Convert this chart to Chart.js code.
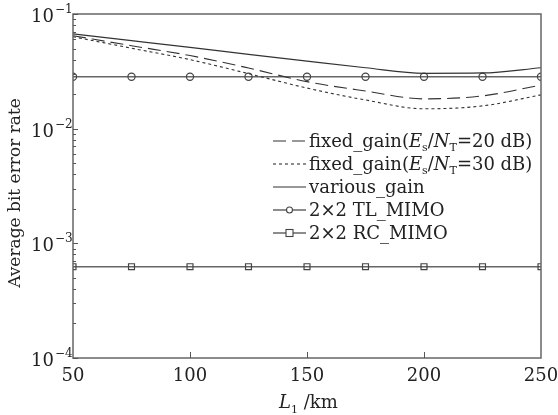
<!DOCTYPE html>
<html>
<head>
<meta charset="utf-8">
<script src="https://cdn.jsdelivr.net/npm/chart.js@4"></script>
<style>
html,body{margin:0;padding:0;background:#fff;}
#wrap{width:558px;height:415px;position:relative;}
</style>
</head>
<body>
<div id="wrap"><canvas id="c" width="558" height="415"></canvas></div>
<script>
// ---- data ----
const distances = [50, 75, 100, 125, 150, 175, 200, 225, 250];
const fixedGain20 = [0.0647, 0.0529, 0.0434, 0.0338, 0.0257, 0.0213, 0.0182, 0.0193, 0.0240];
const fixedGain30 = [0.0634, 0.0503, 0.0400, 0.0302, 0.0226, 0.0178, 0.0149, 0.0158, 0.0197];
const variousGain = [0.0670, 0.0586, 0.0512, 0.0445, 0.0388, 0.0340, 0.0304, 0.0306, 0.0340];
const tlMimo = [0.0284, 0.0284, 0.0284, 0.0284, 0.0284, 0.0284, 0.0284, 0.0284, 0.0284];
const rcMimo = [0.000625, 0.000625, 0.000625, 0.000625, 0.000625, 0.000625, 0.000625, 0.000625, 0.000625];
const xTicks = [50, 100, 150, 200, 250];
const yDecades = [-4, -3, -2, -1];
const xTitleMain = 'L';
const xTitleSub = '1';
const xTitleRest = ' /km';
const yTitle = 'Average bit error rate';

const FONT = '"DejaVu Serif", "Liberation Serif", serif';
const TXT = '#222';
const FRAME = '#666';

function pts(arr){ return distances.map((d,i)=>({x:d, y:arr[i]})); }

const datasets = [
  {label:'fixed_gain(Es/NT=20 dB)', data:pts(fixedGain20), borderColor:'#333', borderWidth:1.1, borderDash:[13,6], pointRadius:0, cubicInterpolationMode:'monotone',
   legendParts:[['fixed_gain(',''],['E','i'],['s','sub'],['/',''],['N','i'],['T','sub'],['=20 dB)','']]},
  {label:'fixed_gain(Es/NT=30 dB)', data:pts(fixedGain30), borderColor:'#333', borderWidth:1.1, borderDash:[3,3], pointRadius:0, cubicInterpolationMode:'monotone',
   legendParts:[['fixed_gain(',''],['E','i'],['s','sub'],['/',''],['N','i'],['T','sub'],['=30 dB)','']]},
  {label:'various_gain', data:pts(variousGain), borderColor:'#333', borderWidth:1.2, pointRadius:0, cubicInterpolationMode:'monotone',
   legendParts:[['various_gain','']]},
  {label:'2×2 TL_MIMO', data:pts(tlMimo), borderColor:'#666', borderWidth:1.6, pointStyle:'circle', pointRadius:3.6,
   pointBorderColor:'#444', pointBackgroundColor:'rgba(255,255,255,0)', pointBorderWidth:1.2,
   legendParts:[['2×2 TL_MIMO','']]},
  {label:'2×2 RC_MIMO', data:pts(rcMimo), borderColor:'#666', borderWidth:1.6, pointStyle:'rect', pointRadius:4.2,
   pointBorderColor:'#444', pointBackgroundColor:'rgba(255,255,255,0)', pointBorderWidth:1.2,
   legendParts:[['2×2 RC_MIMO','']]}
];

const decorPlugin = {
  id:'decor',
  afterDraw(chart){
    const ctx = chart.ctx, a = chart.chartArea;
    const xs = chart.scales.x, ys = chart.scales.y;
    ctx.save();
    // frame
    ctx.strokeStyle = FRAME; ctx.lineWidth = 1.5;
    ctx.strokeRect(a.left, a.top, a.right-a.left, a.bottom-a.top);
    // y ticks
    ctx.lineWidth = 1; ctx.strokeStyle = '#555';
    for (let k=-4;k<=-1;k++){
      for (let m=1;m<=9;m++){
        if (k===-1 && m>1) break;
        const v = m*Math.pow(10,k);
        const y = Math.round(ys.getPixelForValue(v))+0.5;
        const len = m===1?5:3;
        ctx.beginPath(); ctx.moveTo(a.left, y); ctx.lineTo(a.left+len, y); ctx.stroke();
      }
    }
    // x ticks
    xTicks.forEach(t=>{
      if (t===xTicks[0]||t===xTicks[xTicks.length-1]) return;
      const x = Math.round(xs.getPixelForValue(t))+0.5;
      ctx.beginPath(); ctx.moveTo(x, a.bottom); ctx.lineTo(x, a.bottom-6); ctx.stroke();
    });
    // y tick labels with superscripts
    ctx.fillStyle = TXT;
    yDecades.forEach(k=>{
      const y = ys.getPixelForValue(Math.pow(10,k));
      ctx.font = '18px '+FONT; ctx.textAlign='right'; ctx.textBaseline='alphabetic';
      ctx.fillText('10', 54, y+8);
      ctx.font = '12px '+FONT; ctx.textAlign='left';
      ctx.fillText('\u2212'+Math.abs(k), 55, y-1);
    });
    // y title
    ctx.save();
    ctx.translate(16, 193);
    ctx.rotate(-Math.PI/2);
    ctx.font = '17px '+FONT; ctx.textAlign='center'; ctx.textBaseline='middle';
    ctx.fillText(yTitle, 0, 0);
    ctx.restore();
    // x title
    ctx.textAlign='left'; ctx.textBaseline='alphabetic';
    ctx.font = 'italic 18px '+FONT;
    let x0 = 279;
    ctx.fillText(xTitleMain, x0, 408);
    x0 += ctx.measureText(xTitleMain).width;
    ctx.font = '11px '+FONT;
    ctx.fillText(xTitleSub, x0, 413);
    x0 += ctx.measureText(xTitleSub).width;
    ctx.font = '18px '+FONT;
    ctx.fillText(xTitleRest, x0, 408);
    // legend
    const ly0 = 141, lstep = 23, lx0 = 273, lx1 = 306, tx = 309;
    chart.data.datasets.forEach((ds,i)=>{
      const y = ly0 + i*lstep;
      ctx.save();
      ctx.strokeStyle = ds.borderColor; ctx.lineWidth = ds.borderWidth;
      ctx.setLineDash(ds.borderDash||[]);
      ctx.beginPath(); ctx.moveTo(lx0,y); ctx.lineTo(lx1,y); ctx.stroke();
      ctx.setLineDash([]);
      if (ds.pointRadius>0){
        const cx=(lx0+lx1)/2;
        ctx.strokeStyle = ds.pointBorderColor; ctx.lineWidth=1.1;
        ctx.fillStyle='#fff';
        if (ds.pointStyle==='circle'){ ctx.beginPath(); ctx.arc(cx,y,3,0,Math.PI*2); ctx.fill(); ctx.stroke(); }
        else { ctx.fillRect(cx-3.5,y-3.5,7,7); ctx.strokeRect(cx-3.5,y-3.5,7,7); }
      }
      ctx.restore();
      let x = tx;
      ds.legendParts.forEach(([t,st])=>{
        ctx.fillStyle = TXT; ctx.textAlign='left'; ctx.textBaseline='alphabetic';
        if (st==='i'){ ctx.font='italic 18px '+FONT; ctx.fillText(t,x,y+6); }
        else if (st==='sub'){ ctx.font='11px '+FONT; ctx.fillText(t,x,y+10); }
        else { ctx.font='18px '+FONT; ctx.fillText(t,x,y+6); }
        x += ctx.measureText(t).width;
      });
    });
    ctx.restore();
  }
};

new Chart(document.getElementById('c'), {
  type:'line',
  data:{datasets},
  options:{
    responsive:false, animation:false,
    layout:{padding:{top:14, right:17, left:0, bottom:0}},
    plugins:{legend:{display:false}, tooltip:{enabled:false}},
    elements:{line:{fill:false}},
    scales:{
      x:{type:'linear', min:50, max:250,
         afterBuildTicks(s){ s.ticks = xTicks.map(v=>({value:v})); },
         afterFit(s){ s.height = 57; s.paddingLeft = 0; s.paddingRight = 0; },
         grid:{display:false, drawTicks:false},
         border:{display:false},
         ticks:{color:TXT, font:{family:FONT, size:18}, padding:8, maxRotation:0}
      },
      y:{type:'logarithmic', min:1e-4, max:1e-1,
         afterFit(s){ s.width = 73; s.paddingTop = 0; s.paddingBottom = 0; },
         grid:{display:false, drawTicks:false},
         border:{display:false},
         ticks:{display:false},
         title:{display:false}
      }
    }
  },
  plugins:[decorPlugin]
});
</script>
</body>
</html>
